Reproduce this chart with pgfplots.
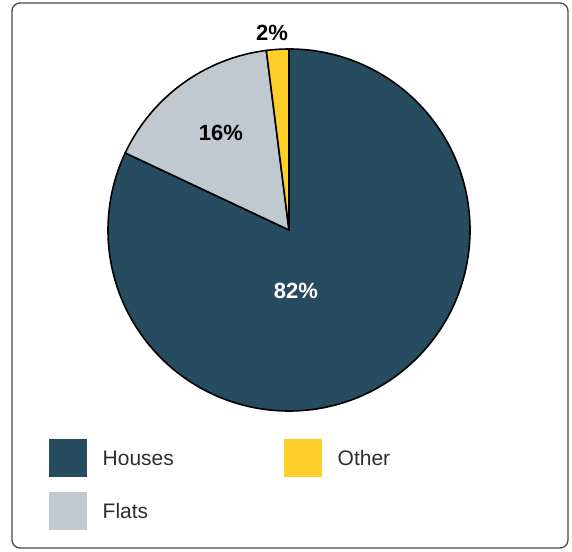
\documentclass[border=0pt]{standalone}
\usepackage{pgfplots}
\pgfplotsset{compat=1.18}
\usepackage{fontspec}
\setmainfont{Liberation Sans}
\definecolor{houses}{HTML}{274B5F}
\definecolor{flats}{HTML}{BFC9CF}
\definecolor{other}{HTML}{FFCF29}
\definecolor{frame}{HTML}{4A4A4A}
\definecolor{legtext}{HTML}{2E2E2E}
\begin{document}
\begin{tikzpicture}[x=1pt,y=1pt]
\path[use as bounding box] (0,0) rectangle (572,551);
\draw[frame,line width=1.3pt,rounded corners=8pt] (12,3) rectangle (568,548);
% values (percent)
\pgfmathsetmacro\vH{82}
\pgfmathsetmacro\vF{16}
\pgfmathsetmacro\vO{2}
\pgfmathsetmacro\aA{90}
\pgfmathsetmacro\aB{90-3.6*\vH}
\pgfmathsetmacro\aC{\aB-3.6*\vF}
\pgfmathsetmacro\aD{\aC-3.6*\vO}
\begin{axis}[
  scale only axis, width=362pt, height=362pt,
  xmin=-181, xmax=181, ymin=-181, ymax=181,
  hide axis, clip=false,
  anchor=center, at={(289pt,321pt)},
]
\fill[houses,draw=black,line width=1.6pt,line join=round]
  (axis cs:0,0) -- (axis cs:{181*cos(\aA)},{181*sin(\aA)}) arc[start angle=\aA,end angle=\aB,radius=181pt] -- cycle;
\fill[flats,draw=black,line width=1.6pt,line join=round]
  (axis cs:0,0) -- (axis cs:{181*cos(\aB)},{181*sin(\aB)}) arc[start angle=\aB,end angle=\aC,radius=181pt] -- cycle;
\fill[other,draw=black,line width=1.6pt,line join=round]
  (axis cs:0,0) -- (axis cs:{181*cos(\aC)},{181*sin(\aC)}) arc[start angle=\aC,end angle=\aD,radius=181pt] -- cycle;
\node[white,font=\bfseries\fontsize{22}{26}\selectfont] at (axis cs:7,-61) {82\%};
\node[black,font=\bfseries\fontsize{22}{26}\selectfont] at (axis cs:-68,97) {16\%};
\node[black,font=\bfseries\fontsize{22}{26}\selectfont] at (axis cs:-17,197) {2\%};
\end{axis}
% legend
\fill[houses] (49,74) rectangle (87,112);
\fill[other] (284,74) rectangle (322,112);
\fill[flats] (49,21) rectangle (87,59);
\node[anchor=west,inner sep=0pt,legtext,font=\fontsize{21}{25}\selectfont] at (102.5,93) {Houses};
\node[anchor=west,inner sep=0pt,legtext,font=\fontsize{21}{25}\selectfont] at (337.5,93) {Other};
\node[anchor=west,inner sep=0pt,legtext,font=\fontsize{21}{25}\selectfont] at (102.5,40) {Flats};
\end{tikzpicture}
\end{document}
